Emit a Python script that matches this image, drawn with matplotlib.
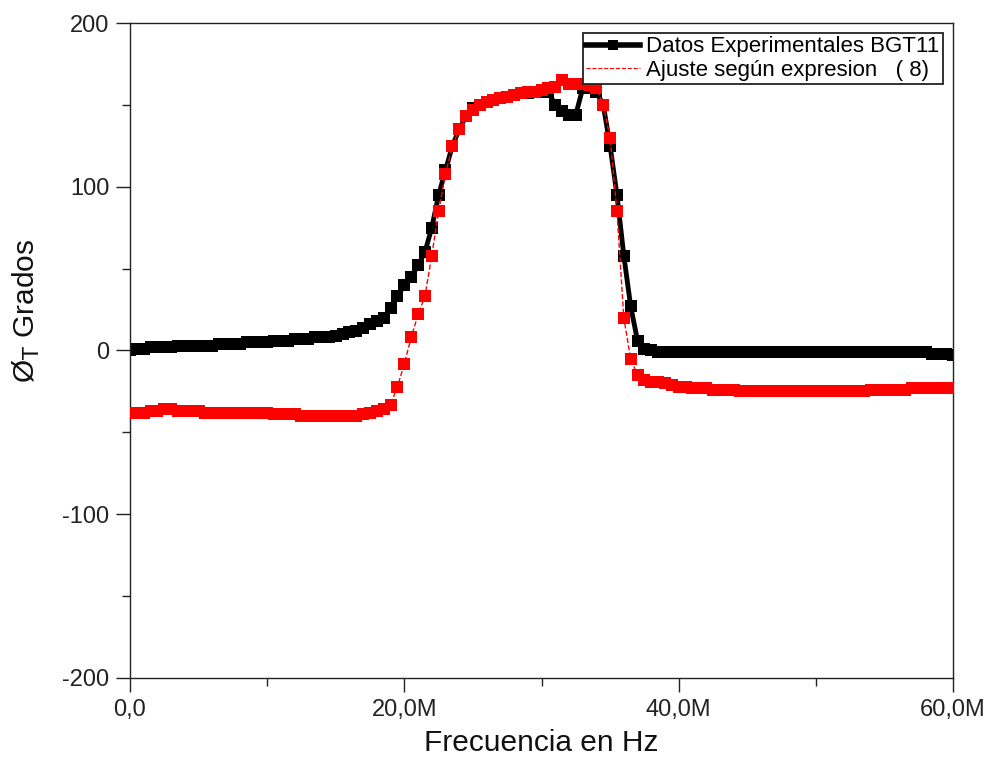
import matplotlib
matplotlib.use("Agg")
import matplotlib.pyplot as plt
from matplotlib.lines import Line2D
from matplotlib.ticker import MultipleLocator, FuncFormatter
import numpy as np

plt.rcParams['font.family'] = ['Liberation Sans', 'DejaVu Sans']
plt.rcParams['axes.unicode_minus'] = False

# frequency in MHz (0 to 60 step 0.5)
freq_mhz = [i * 0.5 for i in range(121)]

black_deg = [
    0, 1, 1, 2, 2, 2, 2, 3, 3, 3,          # 0 - 4.5
    3, 3, 3, 4, 4, 4, 4, 5, 5, 5,          # 5 - 9.5
    5, 6, 6, 6, 7, 7, 7, 8, 8, 8,          # 10 - 14.5
    9, 10, 11, 12, 14, 16, 18, 20, 26, 33,  # 15 - 19.5
    40, 45, 52, 60, 75, 95, 110, 125, 135, 143,  # 20 - 24.5
    148, 150, 152, 153, 154, 155, 156, 157, 157, 158,  # 25 - 29.5
    158, 158, 150, 146, 144, 144, 160, 160, 158, 150,  # 30 - 34.5
    125, 95, 58, 27, 6, 1, 0, -1, -1, -1,  # 35 - 39.5
    -1, -1, -1, -1, -1, -1, -1, -1, -1, -1,  # 40 - 44.5
    -1, -1, -1, -1, -1, -1, -1, -1, -1, -1,  # 45 - 49.5
    -1, -1, -1, -1, -1, -1, -1, -1, -1, -1,  # 50 - 54.5
    -1, -1, -1, -1, -1, -1, -1, -2, -2, -2,  # 55 - 59.5
    -3,                                     # 60
]

red_deg = [
    -38, -38, -38, -37, -37, -36, -36, -37, -37, -37,   # 0 - 4.5
    -37, -38, -38, -38, -38, -38, -38, -38, -38, -38,   # 5 - 9.5
    -38, -39, -39, -39, -39, -40, -40, -40, -40, -40,   # 10 - 14.5
    -40, -40, -40, -40, -39, -38, -37, -36, -33, -22,   # 15 - 19.5
    -8, 8, 22, 33, 58, 85, 108, 125, 135, 143,           # 20 - 24.5
    147, 150, 152, 153, 154, 155, 156, 157, 158, 158,   # 25 - 29.5
    159, 160, 161, 165, 163, 163, 163, 162, 160, 150,   # 30 - 34.5
    130, 85, 20, -5, -15, -18, -19, -19, -20, -21,      # 35 - 39.5
    -22, -22, -23, -23, -23, -24, -24, -24, -24, -25,   # 40 - 44.5
    -25, -25, -25, -25, -25, -25, -25, -25, -25, -25,   # 45 - 49.5
    -25, -25, -25, -25, -25, -25, -25, -25, -24, -24,   # 50 - 54.5
    -24, -24, -24, -24, -23, -23, -23, -23, -23, -23,   # 55 - 59.5
    -23,                                                 # 60
]

x_ticklabels = ['0,0', '20,0M', '40,0M', '60,0M']

freq = np.array(freq_mhz) * 1e6

fig = plt.figure(figsize=(9.92, 7.59), dpi=100)
ax = fig.add_axes([130/992, 1 - 678/759, (953 - 130)/992, (678 - 23)/759])

ax.plot(freq, black_deg, color='black', marker='s', markersize=9, linewidth=3.5,
        markeredgewidth=0, zorder=2)
ax.plot(freq, red_deg, color='red', marker='s', markersize=9, linewidth=1,
        linestyle='--', markeredgewidth=0, zorder=3)

ax.set_xlim(0, 60e6)
ax.set_ylim(-200, 200)
ax.xaxis.set_major_locator(MultipleLocator(20e6))
ax.xaxis.set_minor_locator(MultipleLocator(10e6))
ax.yaxis.set_major_locator(MultipleLocator(100))
ax.yaxis.set_minor_locator(MultipleLocator(50))
ax.xaxis.set_major_formatter(FuncFormatter(
    lambda v, p: x_ticklabels[int(round(v / 20e6))] if 0 <= round(v / 20e6) < 4 else ''))

ax.tick_params(which='major', direction='out', length=10, width=1, labelsize=17,
               top=False, right=False, pad=5, colors='#222222', labelcolor='#222222')
ax.tick_params(which='minor', direction='out', length=6, width=1, top=False, right=False,
               colors='#222222')
for s in ax.spines.values():
    s.set_linewidth(1)
    s.set_color('#222222')

ax.set_xlabel('Frecuencia en Hz', fontsize=21.5, labelpad=6, color='#111111')
ax.set_ylabel('Ø$_{\\mathrm{T}}$ Grados', fontsize=21.5, color='#111111')
ax.yaxis.set_label_coords(-0.107, 0.56)

handles = [
    Line2D([], [], color='black', marker='s', markersize=7, linewidth=4,
           markeredgewidth=0),
    Line2D([], [], color='red', linestyle='--', linewidth=0.8),
]
leg = ax.legend(handles, ['Datos Experimentales BGT11', 'Ajuste según expresion   ( 8)'],
                loc='upper right', fontsize=16, frameon=True, fancybox=False,
                edgecolor='#222222', borderaxespad=0.45, handlelength=2.4,
                handletextpad=0.3, borderpad=0.15, labelspacing=0.1, markerscale=1)
leg.get_frame().set_linewidth(1.3)
leg.get_frame().set_alpha(1)

fig.savefig('out.png', dpi=100)
